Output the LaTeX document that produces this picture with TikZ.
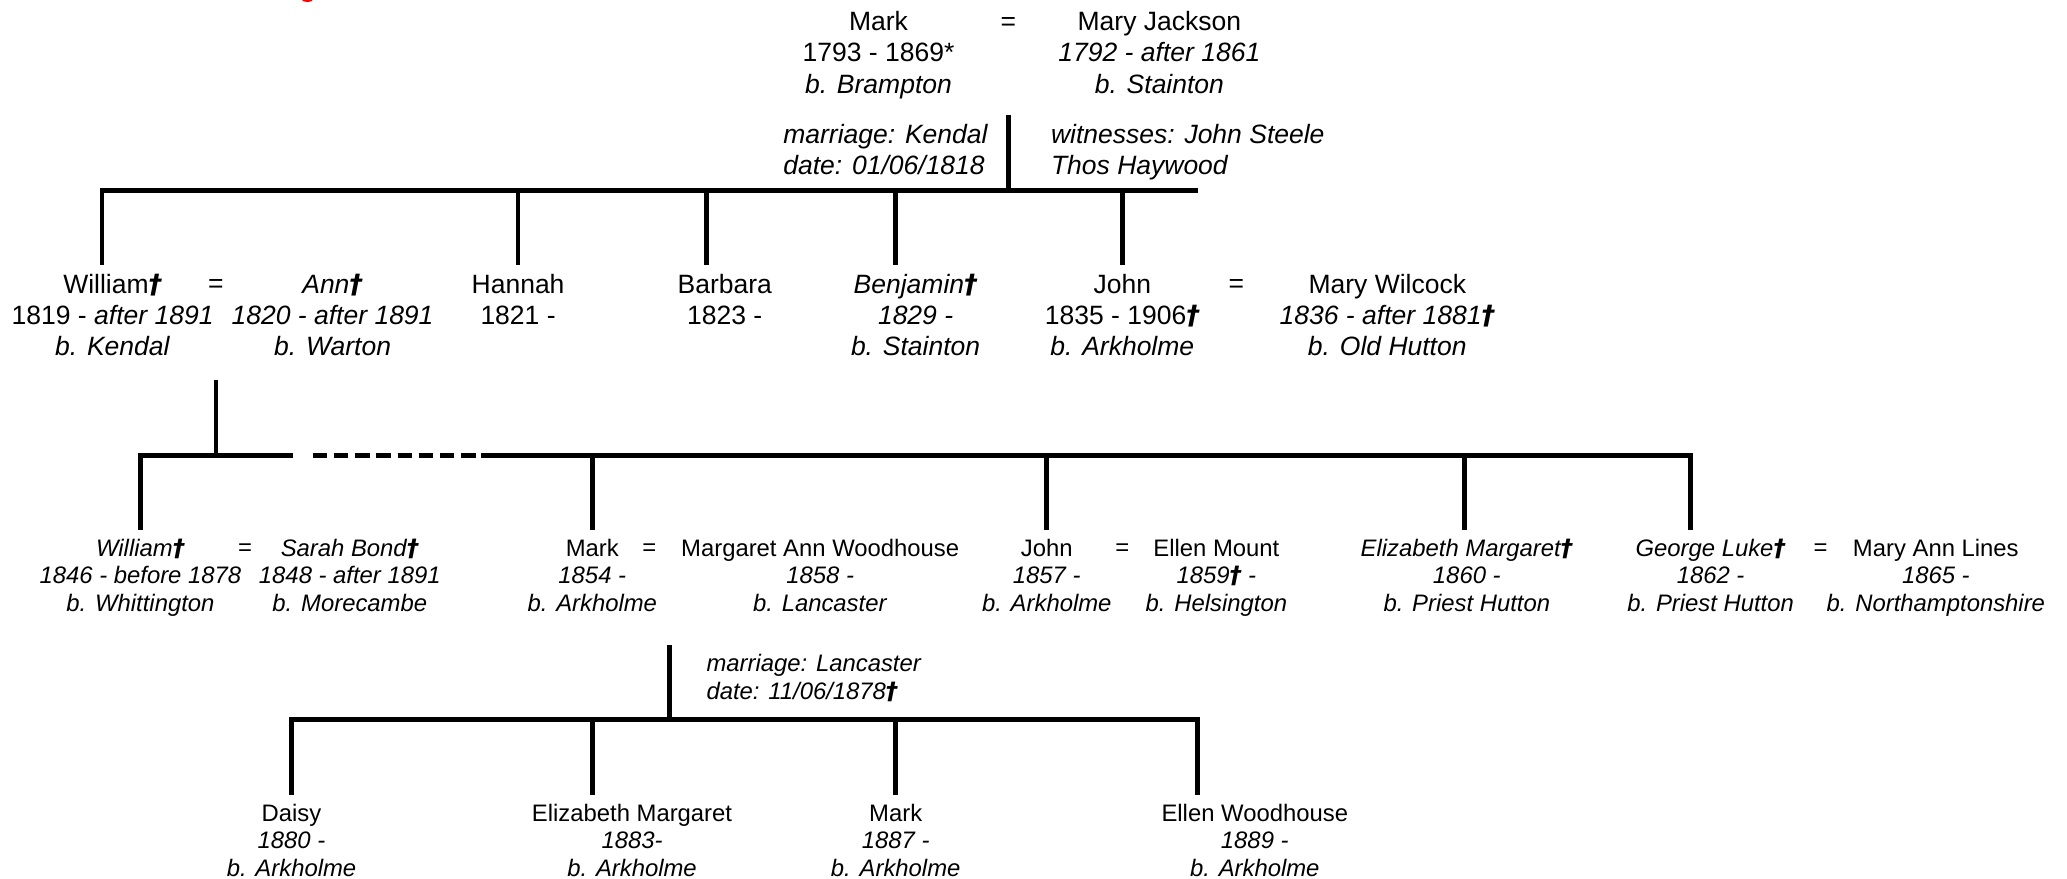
\documentclass[tikz,border=0pt]{standalone}
\usepackage{fontspec}
\setmainfont{Liberation Sans}
\newfontfamily\dgfont{DejaVu Sans}
\newcommand{\dg}{{\dgfont\bfseries\itshape †}}
\newcommand{\strB}{\rule{0pt}{16pt}}
\newcommand{\strS}{\rule{0pt}{15pt}}
\tikzset{
  big/.style={font=\fontsize{20}{23.5}\selectfont, inner sep=0pt, align=center, anchor=north},
  small/.style={font=\fontsize{18}{21}\selectfont, inner sep=0pt, align=center, anchor=north},
  eqbig/.style={font=\fontsize{20}{23.5}\selectfont, inner sep=0pt, anchor=base},
  eqsmall/.style={font=\fontsize{18}{21}\selectfont, inner sep=0pt, anchor=base},
  notebig/.style={font=\fontsize{20}{23.5}\selectfont, inner sep=0pt, align=left, anchor=north west},
  notesmall/.style={font=\fontsize{18}{21}\selectfont, inner sep=0pt, align=left, anchor=north west},
  kin/.style={line width=3.6pt, line join=miter},
}
\begin{document}
\begin{tikzpicture}[x=1pt,y=-1pt]
\useasboundingbox (0,0) rectangle (1560,663);
\fill[red] (232,0) ellipse[x radius=4pt, y radius=1.5pt];

% ---- generation 1
\node[big] (mark) at (663,7) {\strB Mark\\1793 - 1869*\\\textit{b. Brampton}};
\node[eqbig] (eq1) at (761,23) {=};
\node[big] (maryj) at (875,7) {\strB Mary Jackson\\\textit{1792 - after 1861}\\\textit{b. Stainton}};
\node[notebig] (m1a) at (591,92) {\strB\textit{marriage: Kendal}\\\textit{date: 01/06/1818}};
\node[notebig] (m1b) at (793,92) {\strB\textit{witnesses: John Steele}\\\textit{Thos Haywood}};

% ---- generation 2
\node[big] (william) at (85,205) {\strB William\dg\\1819 - \textit{after 1891}\\\textit{b. Kendal}};
\node[eqbig] (eq2) at (163,221) {=};
\node[big] (ann) at (251,205) {\strB\textit{Ann\dg}\\\textit{1820 - after 1891}\\\textit{b. Warton}};
\node[big] (hannah) at (391,205) {\strB Hannah\\1821 -};
\node[big] (barbara) at (547,205) {\strB Barbara\\1823 -};
\node[big] (benjamin) at (691,205) {\strB\textit{Benjamin\dg}\\\textit{1829 -}\\\textit{b. Stainton}};
\node[big] (john) at (847,205) {\strB John\\1835 - 1906\dg\\\textit{b. Arkholme}};
\node[eqbig] (eq3) at (933,221) {=};
\node[big] (maryw) at (1047,205) {\strB Mary Wilcock\\\textit{1836 - after 1881\dg}\\\textit{b. Old Hutton}};

% ---- generation 3
\node[small] (william2) at (106,404.5) {\strS\textit{William\dg}\\\textit{1846 - before 1878}\\\textit{b. Whittington}};
\node[eqsmall] (eq4) at (185,419.5) {=};
\node[small] (sarah) at (264,404.5) {\strS\textit{Sarah Bond\dg}\\\textit{1848 - after 1891}\\\textit{b. Morecambe}};
\node[small] (mark2) at (447,404.5) {\strS Mark\\\textit{1854 -}\\\textit{b. Arkholme}};
\node[eqsmall] (eq5) at (490,419.5) {=};
\node[small] (margaret) at (619,404.5) {\strS Margaret Ann Woodhouse\\\textit{1858 -}\\\textit{b. Lancaster}};
\node[small] (john2) at (790,404.5) {\strS John\\\textit{1857 -}\\\textit{b. Arkholme}};
\node[eqsmall] (eq6) at (847,419.5) {=};
\node[small] (ellen) at (918,404.5) {\strS Ellen Mount\\\textit{1859\dg{} -}\\\textit{b. Helsington}};
\node[small] (elizabeth) at (1107,404.5) {\strS\textit{Elizabeth Margaret\dg}\\\textit{1860 -}\\\textit{b. Priest Hutton}};
\node[small] (george) at (1291,404.5) {\strS\textit{George Luke\dg}\\\textit{1862 -}\\\textit{b. Priest Hutton}};
\node[eqsmall] (eq7) at (1374,419.5) {=};
\node[small] (maryann) at (1461,404.5) {\strS Mary Ann Lines\\\textit{1865 -}\\\textit{b. Northamptonshire}};
\node[notesmall] (m3) at (533,491.5) {\strS\textit{marriage: Lancaster}\\\textit{date: 11/06/1878\dg}};

% ---- generation 4
\node[small] (daisy) at (220,604.5) {\strS Daisy\\\textit{1880 -}\\\textit{b. Arkholme}};
\node[small] (elizm) at (477,604.5) {\strS Elizabeth Margaret\\\textit{1883-}\\\textit{b. Arkholme}};
\node[small] (mark3) at (676,604.5) {\strS Mark\\\textit{1887 -}\\\textit{b. Arkholme}};
\node[small] (ellenw) at (947,604.5) {\strS Ellen Woodhouse\\\textit{1889 -}\\\textit{b. Arkholme}};

% ---- connector points
\coordinate (p1) at (761,87);
\coordinate (b1) at (761,143.5);
\coordinate (b1r) at (904,143.5);
\coordinate (tWilliam) at (77,200);
\coordinate (tHannah) at (391,200);
\coordinate (tBarbara) at (533,200);
\coordinate (tBenjamin) at (676,200);
\coordinate (tJohn) at (847,200);

\coordinate (p2) at (163,287);
\coordinate (b2) at (163,344);
\coordinate (d1) at (221,344);
\coordinate (d2) at (236,344);
\coordinate (d3) at (359,344);
\coordinate (d4) at (363,344);
\coordinate (tWilliam2) at (106,400);
\coordinate (tMark2) at (447,400);
\coordinate (tJohn2) at (790,400);
\coordinate (tElizabeth) at (1105,400);
\coordinate (tGeorge) at (1276,400);

\coordinate (p3) at (505,487);
\coordinate (b3) at (505,543);
\coordinate (tDaisy) at (220,600);
\coordinate (tElizm) at (447,600);
\coordinate (tMark3) at (676,600);
\coordinate (tEllenw) at (904,600);

% ---- connectors
\draw[kin] (p1) -- (b1);
\draw[kin] (tWilliam) |- (b1r);
\foreach \c in {tHannah,tBarbara,tBenjamin,tJohn} \draw[kin] (b1 -| \c) -- (\c);

\draw[kin] (p2) -- (b2);
\draw[kin] (tWilliam2) |- (d1);
\draw[kin, dash pattern=on 11pt off 5pt] (d2) -- (d3);
\draw[kin] (d4) -| (tGeorge);
\foreach \c in {tMark2,tJohn2,tElizabeth} \draw[kin] (d4 -| \c) -- (\c);

\draw[kin] (p3) -- (b3);
\draw[kin] (tDaisy) |- (b3) -| (tEllenw);
\foreach \c in {tElizm,tMark3} \draw[kin] (b3 -| \c) -- (\c);
\end{tikzpicture}
\end{document}
